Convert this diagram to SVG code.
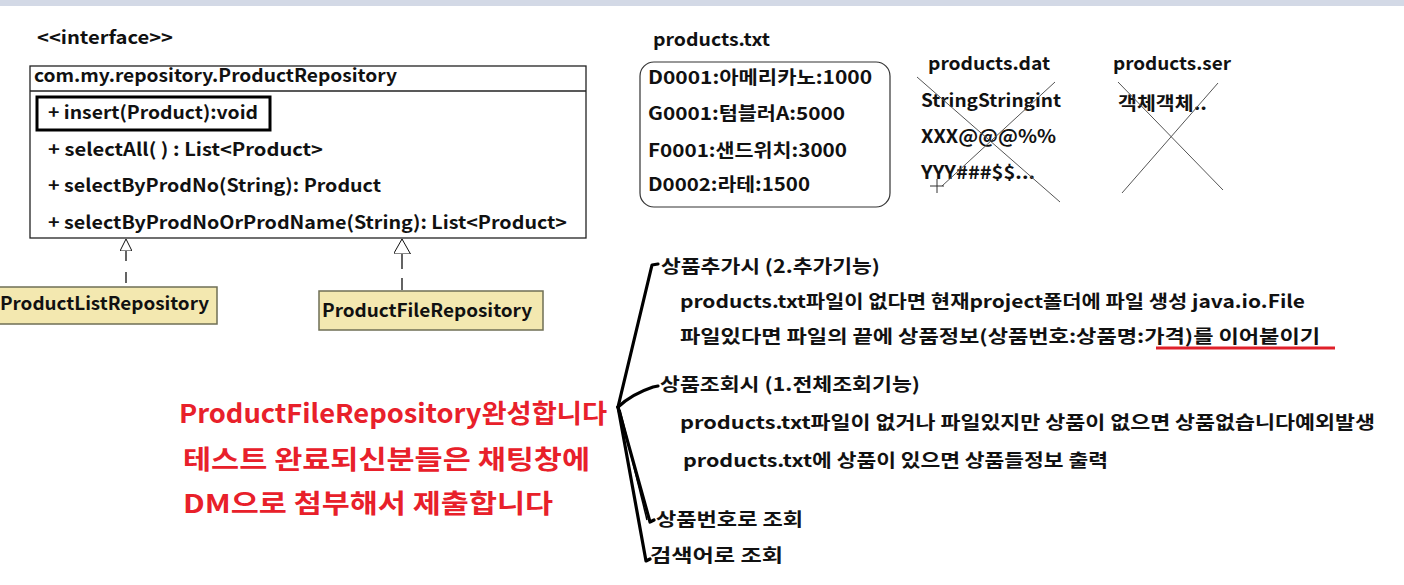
<svg xmlns="http://www.w3.org/2000/svg" width="1404" height="585" viewBox="0 0 1404 585">
<style>
  text { font-family: "Noto Sans CJK KR", "Noto Sans", sans-serif; font-weight: bold; font-size: 18px; fill: #111; }
  .red { fill: #e8202a; font-size: 26px; }
  .box { fill: #fff; stroke: #222; stroke-width: 1.3; }
  .impl { fill: #f3e8b0; stroke: #6f6f55; stroke-width: 1.5; }
  .cross { stroke: #555; stroke-width: 1; fill: none; }
  .brace { stroke: #000; stroke-width: 3.2; fill: none; stroke-linecap: round; stroke-linejoin: round; }
  .real { stroke: #111; stroke-width: 1.3; fill: none; }
</style>
<defs>
  <marker id="tri" viewBox="0 0 12 12" refX="12" refY="6" markerWidth="12" markerHeight="12" markerUnits="userSpaceOnUse" orient="auto">
    <path d="M0,0 L12,6 L0,12 Z" fill="#fff" stroke="#111" stroke-width="1"/>
  </marker>
  <marker id="tri2" viewBox="0 0 15 17" refX="15" refY="8.5" markerWidth="15" markerHeight="17" markerUnits="userSpaceOnUse" orient="auto">
    <path d="M0,0 L15,8.5 L0,17 Z" fill="#fff" stroke="#111" stroke-width="1"/>
  </marker>
</defs>
<rect x="0" y="0" width="1404" height="585" fill="#fff"/>
<rect x="0" y="0" width="1404" height="6" fill="#d3d9e6"/>

<g id="interface">
  <text x="37" y="44" textLength="136" lengthAdjust="spacingAndGlyphs">&lt;&lt;interface&gt;&gt;</text>
  <rect class="box" x="30" y="66" width="556" height="172"/>
  <line x1="30" y1="91" x2="586" y2="91" stroke="#222" stroke-width="1.3"/>
  <text x="34" y="82" textLength="363" lengthAdjust="spacingAndGlyphs">com.my.repository.ProductRepository</text>
  <rect x="37" y="97" width="233" height="33" fill="none" stroke="#000" stroke-width="3"/>
  <text x="48" y="119" textLength="210" lengthAdjust="spacingAndGlyphs">+ insert(Product):void</text>
  <text x="48" y="156" textLength="275" lengthAdjust="spacingAndGlyphs">+ selectAll( ) : List&lt;Product&gt;</text>
  <text x="48" y="192" textLength="333" lengthAdjust="spacingAndGlyphs">+ selectByProdNo(String): Product</text>
  <text x="48" y="229" textLength="519" lengthAdjust="spacingAndGlyphs">+ selectByProdNoOrProdName(String): List&lt;Product&gt;</text>
</g>

<g id="ProductListRepository">
  <rect class="impl" x="-2" y="287" width="219" height="37"/>
  <text x="0" y="310" textLength="209" lengthAdjust="spacingAndGlyphs">ProductListRepository</text>
</g>

<g id="ProductFileRepository">
  <rect class="impl" x="319" y="291" width="224" height="39"/>
  <text x="322" y="317" textLength="210" lengthAdjust="spacingAndGlyphs">ProductFileRepository</text>
</g>

<g id="connectors">
  <line x1="126" y1="283" x2="126" y2="239" class="real" stroke-dasharray="11,11" marker-end="url(#tri)"/>
  <line x1="402" y1="290" x2="402" y2="239" class="real" stroke-dasharray="12,9,16,9" marker-end="url(#tri2)"/>
</g>

<g id="productsTxt">
  <text x="653" y="46" textLength="117" lengthAdjust="spacingAndGlyphs">products.txt</text>
  <rect x="640" y="62" width="250" height="145" rx="14" fill="none" stroke="#333" stroke-width="1.2"/>
  <text x="648" y="84" textLength="224" lengthAdjust="spacingAndGlyphs">D0001:아메리카노:1000</text>
  <text x="648" y="120" textLength="197" lengthAdjust="spacingAndGlyphs">G0001:텀블러A:5000</text>
  <text x="648" y="157" textLength="199" lengthAdjust="spacingAndGlyphs">F0001:샌드위치:3000</text>
  <text x="648" y="191" textLength="162" lengthAdjust="spacingAndGlyphs">D0002:라테:1500</text>
</g>

<g id="productsDat">
  <text x="928" y="70" textLength="122" lengthAdjust="spacingAndGlyphs">products.dat</text>
  <text x="921" y="107" textLength="140" lengthAdjust="spacingAndGlyphs">StringStringint</text>
  <text x="921" y="143" textLength="135" lengthAdjust="spacingAndGlyphs">XXX@@@%%</text>
  <text x="921" y="179" textLength="114" lengthAdjust="spacingAndGlyphs">YYY###$$...</text>
  <line class="cross" x1="917" y1="77" x2="1060" y2="202"/>
  <line class="cross" x1="1055" y1="82" x2="942" y2="186"/>
  <g stroke="#333" stroke-width="1">
    <line x1="930" y1="186" x2="944" y2="186"/>
    <line x1="937" y1="179" x2="937" y2="193"/>
  </g>
</g>

<g id="productsSer">
  <text x="1113" y="70" textLength="118" lengthAdjust="spacingAndGlyphs">products.ser</text>
  <text x="1118" y="110" textLength="89" lengthAdjust="spacingAndGlyphs">객체객체..</text>
  <line class="cross" x1="1118" y1="82" x2="1223" y2="190"/>
  <line class="cross" x1="1218" y1="83" x2="1122" y2="193"/>
</g>

<g id="brace">
  <path class="brace" d="M658,264 L652,265 L618,407"/>
  <path class="brace" d="M658,386 L653,387 Q632,394 618,407"/>
  <path class="brace" d="M618,407 L650,522 L654,520"/>
  <path class="brace" d="M618,407 L646,561 L650,559"/>
  <path d="M620,410 L647,520" stroke="#000" stroke-width="1.5" fill="none"/>
</g>

<g id="notes">
  <text x="661" y="273" textLength="219" lengthAdjust="spacingAndGlyphs">상품추가시 (2.추가기능)</text>
  <text x="680" y="308" textLength="625" lengthAdjust="spacingAndGlyphs">products.txt파일이 없다면  현재project폴더에 파일 생성 java.io.File</text>
  <text x="680" y="343" textLength="640" lengthAdjust="spacingAndGlyphs">파일있다면 파일의 끝에 상품정보(상품번호:상품명:가격)를 이어붙이기</text>
  <line x1="1156" y1="348" x2="1335" y2="348" stroke="#e0202a" stroke-width="3"/>
  <text x="660" y="391" textLength="260" lengthAdjust="spacingAndGlyphs">상품조회시 (1.전체조회기능)</text>
  <text x="680" y="429" textLength="695" lengthAdjust="spacingAndGlyphs">products.txt파일이 없거나 파일있지만 상품이 없으면 상품없습니다예외발생</text>
  <text x="683" y="467" textLength="425" lengthAdjust="spacingAndGlyphs">products.txt에 상품이 있으면 상품들정보 출력</text>
  <text x="656" y="526" textLength="147" lengthAdjust="spacingAndGlyphs">상품번호로 조회</text>
  <text x="650" y="562" textLength="133" lengthAdjust="spacingAndGlyphs">검색어로 조회</text>
</g>

<g id="redNote">
  <text class="red" x="179" y="423" textLength="428" lengthAdjust="spacingAndGlyphs">ProductFileRepository완성합니다</text>
  <text class="red" x="183" y="469" textLength="407" lengthAdjust="spacingAndGlyphs">테스트 완료되신분들은 채팅창에</text>
  <text class="red" x="183" y="513" textLength="370" lengthAdjust="spacingAndGlyphs">DM으로 첨부해서 제출합니다</text>
</g>
</svg>
